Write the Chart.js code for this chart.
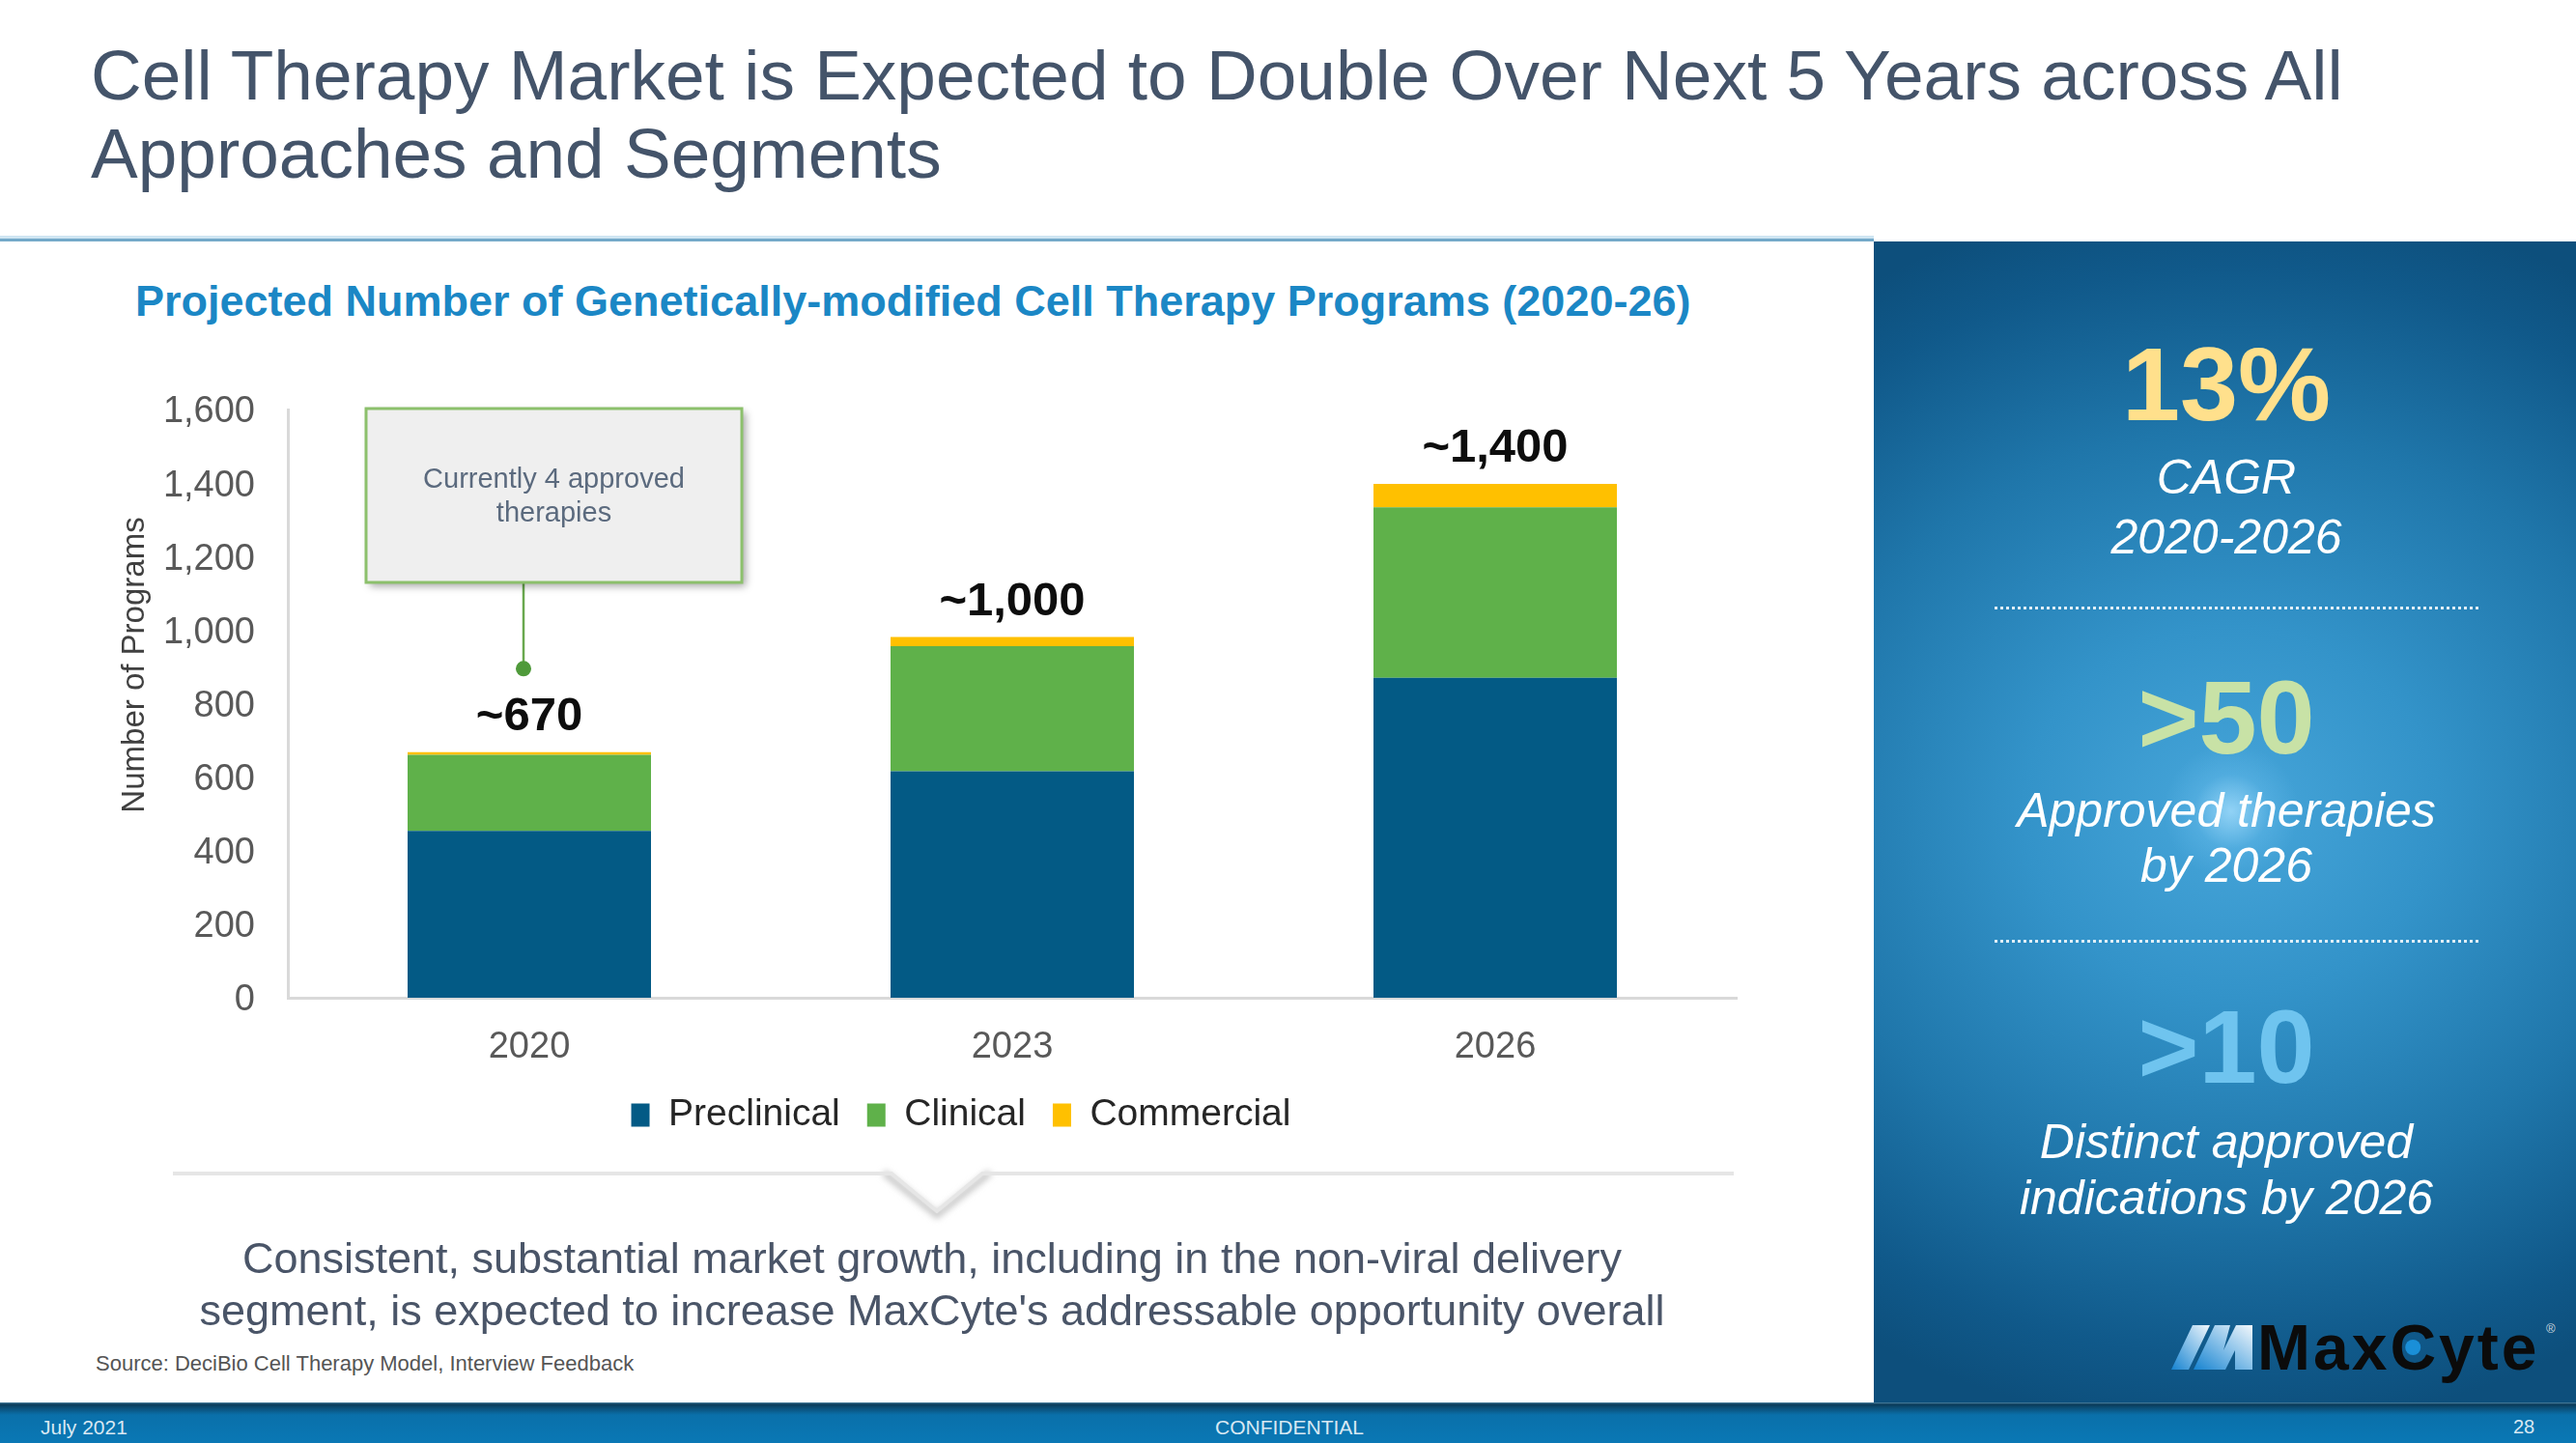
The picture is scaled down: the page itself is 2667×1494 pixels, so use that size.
<!DOCTYPE html>
<html>
<head>
<meta charset="utf-8">
<script src="https://cdn.jsdelivr.net/npm/chart.js@4.4.1/dist/chart.umd.min.js"></script>
<style>
  html, body { margin:0; padding:0; width:2667px; height:1494px; overflow:hidden; background:#ffffff;
    font-family:"Liberation Sans", Arial, Helvetica, sans-serif; }
  .abs { position:absolute; white-space:nowrap; }
  .vc { transform:translateY(-50%); line-height:1; }
  .pt { position:absolute; left:1940px; width:730px; text-align:center; transform:translateY(-50%); line-height:1; white-space:nowrap; }
  .big { font-size:108px; font-weight:bold; }
  .it { font-size:50px; font-style:italic; color:#ffffff; }
</style>
</head>
<body>
<!-- Slide title -->
<div class="abs vc" style="left:94px; top:77px; font-size:73px; color:#44546a;">Cell Therapy Market is Expected to Double Over Next 5 Years across All</div>
<div class="abs vc" style="left:94px; top:158px; font-size:73px; color:#44546a;">Approaches and Segments</div>
<div class="abs" style="left:0; top:244px; width:1940px; height:3px; background:#cfe5f2;"></div>
<div class="abs" style="left:0; top:247px; width:1940px; height:3px; background:#74a9c9;"></div>

<!-- Right panel -->
<div class="abs" style="left:1940px; top:250px; width:727px; height:1202px;
  background:
   radial-gradient(circle 70px at 370px 590px, rgba(170,225,255,0.75) 0%, rgba(120,200,245,0.25) 55%, rgba(80,170,230,0) 100%),
   radial-gradient(ellipse 720px 640px at 370px 590px, #47a6da 0%, #3393c9 30%, #1f76aa 62%, #10598a 88%, #0d4f7c 100%);"></div>
<div class="pt big" style="top:398px; color:#ffe08c;">13%</div>
<div class="pt it" style="top:494px;">CAGR</div>
<div class="pt it" style="top:556px;">2020-2026</div>
<div class="abs" style="left:2065px; top:628px; width:501px; height:0; border-top:3px dotted rgba(255,255,255,0.85);"></div>
<div class="pt big" style="top:743px; color:#c8e2a6;">&gt;50</div>
<div class="pt it" style="top:839px;">Approved therapies</div>
<div class="pt it" style="top:896px;">by 2026</div>
<div class="abs" style="left:2065px; top:973px; width:501px; height:0; border-top:3px dotted rgba(255,255,255,0.85);"></div>
<div class="pt big" style="top:1084px; color:#6fc4ef;">&gt;10</div>
<div class="pt it" style="top:1182px;">Distinct approved</div>
<div class="pt it" style="top:1240px;">indications by 2026</div>

<!-- MaxCyte logo -->
<svg class="abs" style="left:2230px; top:1350px;" width="437" height="90" viewBox="2230 1350 437 90">
  <defs>
    <linearGradient id="lg" x1="0" y1="1" x2="1" y2="0">
      <stop offset="0" stop-color="#1683d0"/>
      <stop offset="0.55" stop-color="#8ec4ea"/>
      <stop offset="1" stop-color="#f2f7fb"/>
    </linearGradient>
  </defs>
  <polygon points="2248,1418 2270,1372 2288,1372 2266,1418" fill="url(#lg)"/>
  <polygon points="2271,1418 2293,1372 2309,1372 2302,1398 2315,1372 2332,1372 2332,1418 2314,1418 2314,1398 2304,1418 2287,1418" fill="url(#lg)"/>
  <text id="mx" x="2337" y="1418" font-family="Liberation Sans, Arial, sans-serif" font-weight="bold" font-size="66" fill="#0b0b0b" letter-spacing="3">MaxCyte</text>
  <circle id="mxdot" cx="2500" cy="1395" r="8" fill="#1a8fd8"/>
  <text x="2636" y="1380" font-family="Liberation Sans, Arial, sans-serif" font-size="13" fill="#cfd8df">®</text>
</svg>

<!-- Chart subtitle -->
<div class="abs vc" style="left:140px; width:1600px; text-align:center; top:311px; font-size:45px; font-weight:bold; color:#1b87c5;">Projected Number of Genetically-modified Cell Therapy Programs (2020-26)</div>

<!-- Chart -->
<canvas id="c" width="1900" height="960" class="abs" style="left:0; top:250px;"></canvas>

<!-- Callout -->
<svg class="abs" style="left:0; top:1190px;" width="1940" height="90" viewBox="0 1190 1940 90">
  <defs>
    <filter id="blur" x="-20%" y="-50%" width="140%" height="200%"><feGaussianBlur stdDeviation="3"/></filter>
  </defs>
  <polyline points="915,1214 970,1258 1025,1214" fill="none" stroke="#c9c9c9" stroke-width="7" filter="url(#blur)"/>
  <polyline points="179,1215 923,1215 970,1254 1017,1215 1795,1215" fill="none" stroke="#e6e6e6" stroke-width="4"/>
</svg>
<div class="abs vc" style="left:0; width:1930px; text-align:center; top:1302px; font-size:45px; color:#4a5568;">Consistent, substantial market growth, including in the non-viral delivery</div>
<div class="abs vc" style="left:0; width:1930px; text-align:center; top:1356px; font-size:45px; color:#4a5568;">segment, is expected to increase MaxCyte's addressable opportunity overall</div>
<div class="abs vc" style="left:99px; top:1412px; font-size:22px; color:#555555;">Source: DeciBio Cell Therapy Model, Interview Feedback</div>

<!-- Footer -->
<div class="abs" style="left:0; top:1452px; width:2667px; height:42px;
  background:linear-gradient(180deg,#4f86a6 0px,#0a3a58 2px,#0b4f78 6px,#0a70aa 13px,#0a78b5 100%);"></div>
<div class="abs vc" style="left:42px; top:1477px; font-size:21px; color:#d8e8f3;">July 2021</div>
<div class="abs vc" style="left:1235px; width:200px; text-align:center; top:1477px; font-size:21px; color:#d8e8f3;">CONFIDENTIAL</div>
<div class="abs vc" style="left:2593px; width:40px; text-align:center; top:1477px; font-size:20px; color:#d8e8f3;">28</div>

<script>
// ---------------- Data ----------------
const categories = ['2020', '2023', '2026'];
const seriesNames = ['Preclinical', 'Clinical', 'Commercial'];
const preclinical = [454, 616, 870];
const clinical = [207, 340, 464];
const commercial = [7, 25, 64];
const totalLabels = ['~670', '~1,000', '~1,400'];
const yAxisTitle = 'Number of Programs';
const yMin = 0, yMax = 1600, yStep = 200;
const annotationLines = ['Currently 4 approved', 'therapies'];
const annotationPointValue = 895;   // where the callout connector ends (2020 bar)

// ---------------- Styles ----------------
const FONT = '"Liberation Sans", Arial, Helvetica, sans-serif';
const seriesColors = ['#035a85', '#5fb14a', '#ffc000'];

// place blue dot inside the "C" of the logo
try {
  const t = document.getElementById('mx');
  const s = t.getStartPositionOfChar(3), e = t.getEndPositionOfChar(3);
  document.getElementById('mxdot').setAttribute('cx', ((s.x + e.x) / 2 - 1.5).toFixed(1));
} catch (err) {}

const yTitlePlugin = {
  id: 'yTitleCustom',
  afterDraw(chart) {
    const {ctx, chartArea} = chart;
    ctx.save();
    ctx.translate(chartArea.left - 158, (chartArea.top + chartArea.bottom) / 2 - 40);
    ctx.rotate(-Math.PI / 2);
    ctx.font = '33px ' + FONT;
    ctx.fillStyle = '#404040';
    ctx.textAlign = 'center';
    ctx.textBaseline = 'middle';
    ctx.fillText(yAxisTitle, 0, 0);
    ctx.restore();
  }
};

// shift the legend so it is centred like the original slide
const legendShiftPlugin = {
  id: 'legendShift',
  afterLayout(chart) {
    const lg = chart.legend;
    if (lg) { lg.left += 21; lg.right += 21; }
  }
};

const totalsPlugin = {
  id: 'totals',
  afterDatasetsDraw(chart) {
    const {ctx} = chart;
    const meta = chart.getDatasetMeta(chart.data.datasets.length - 1);
    ctx.save();
    ctx.font = 'bold 49px ' + FONT;
    ctx.fillStyle = '#0d0d0d';
    ctx.textAlign = 'center';
    ctx.textBaseline = 'middle';
    meta.data.forEach((bar, i) => {
      ctx.fillText(totalLabels[i], bar.x, bar.y - 36);
    });
    ctx.restore();
  }
};

const calloutPlugin = {
  id: 'callout',
  afterDatasetsDraw(chart) {
    const {ctx} = chart;
    const xs = chart.scales.x, ys = chart.scales.y;
    const x0 = xs.getPixelForValue(0);
    const yTop = ys.getPixelForValue(yMax);
    const L = x0 - 169, R = x0 + 220, T = yTop - 1, B = yTop + 179;
    ctx.save();
    const lx = x0 - 6;
    const dotY = ys.getPixelForValue(annotationPointValue);
    ctx.strokeStyle = '#6aa84f';
    ctx.lineWidth = 2.5;
    ctx.beginPath(); ctx.moveTo(lx, B); ctx.lineTo(lx, dotY); ctx.stroke();
    ctx.fillStyle = '#4f9a3a';
    ctx.beginPath(); ctx.arc(lx, dotY, 8, 0, Math.PI * 2); ctx.fill();
    ctx.save();
    ctx.shadowColor = 'rgba(0,0,0,0.35)';
    ctx.shadowBlur = 8; ctx.shadowOffsetX = 4; ctx.shadowOffsetY = 4;
    ctx.fillStyle = '#efefef';
    ctx.fillRect(L, T, R - L, B - T);
    ctx.restore();
    ctx.strokeStyle = '#8cc06c';
    ctx.lineWidth = 3;
    ctx.strokeRect(L, T, R - L, B - T);
    ctx.fillStyle = '#5b6a7e';
    ctx.font = '29px ' + FONT;
    ctx.textAlign = 'center';
    ctx.textBaseline = 'middle';
    annotationLines.forEach((t, i) => ctx.fillText(t, (L + R) / 2, T + 74 + i * 35));
    ctx.restore();
  }
};

const seriesData = [preclinical, clinical, commercial];
new Chart(document.getElementById('c'), {
  type: 'bar',
  data: {
    labels: categories,
    datasets: seriesNames.map((name, i) => ({
      label: name,
      data: seriesData[i],
      backgroundColor: seriesColors[i],
      borderWidth: 0,
      categoryPercentage: 1,
      barPercentage: 0.504
    }))
  },
  options: {
    responsive: false,
    animation: false,
    devicePixelRatio: 1,
    layout: { padding: { left: 150, right: 102, top: 174, bottom: 26 } },
    scales: {
      x: {
        stacked: true,
        grid: { display: false, drawTicks: false },
        border: { display: true, color: '#d9d9d9', width: 3 },
        ticks: { padding: 29, color: '#595959', font: { size: 38, family: FONT } },
        afterFit(s) { s.height = 74; }
      },
      y: {
        stacked: true,
        min: yMin, max: yMax,
        grid: { display: false, drawTicks: false },
        border: { display: true, color: '#d9d9d9', width: 3 },
        ticks: { stepSize: yStep, padding: 34, labelOffset: 3, color: '#595959', font: { size: 38, family: FONT },
                 callback: v => Number(v).toLocaleString('en-US') },
        afterFit(s) { s.width = 148; }
      }
    },
    plugins: {
      legend: {
        position: 'bottom',
        labels: { boxWidth: 19, boxHeight: 24, padding: 28, color: '#262626', font: { size: 39, family: FONT } }
      },
      tooltip: { enabled: false },
      title: { display: false }
    }
  },
  plugins: [yTitlePlugin, legendShiftPlugin, totalsPlugin, calloutPlugin]
});
</script>
</body>
</html>
